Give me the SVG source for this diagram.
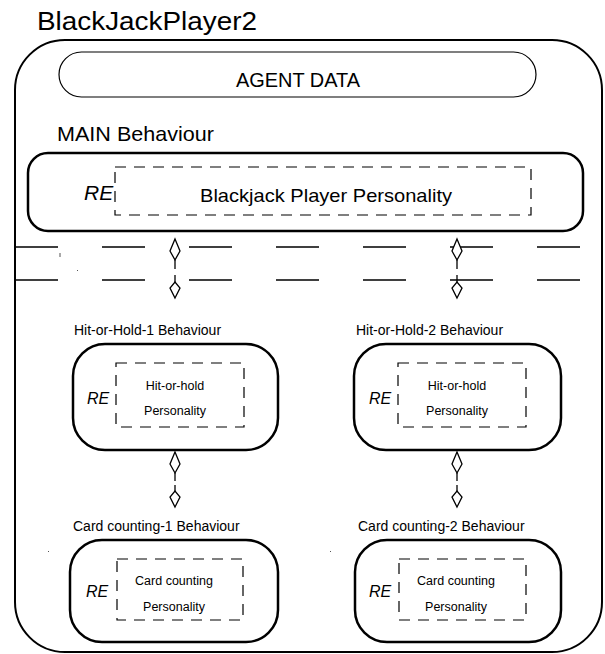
<svg xmlns="http://www.w3.org/2000/svg" width="605" height="654" viewBox="0 0 605 654">
<style>
text{font-family:"Liberation Sans",Arial,sans-serif;fill:#000}
.box{fill:none;stroke:#000;stroke-width:2.5}
.dash{fill:none;stroke:#000;stroke-width:1.2;stroke-dasharray:11 8}
.re{font-style:italic}
.ln{stroke:#000;stroke-width:1.3;fill:none}
.dia{fill:#fff;stroke:#000;stroke-width:1.3}
.hl{stroke:#000;stroke-width:1.3;stroke-dasharray:43 44}
.spk{fill:#555}
</style>
<text x="37" y="30" font-size="26" textLength="220" lengthAdjust="spacingAndGlyphs">BlackJackPlayer2</text>
<g id="agent">
<rect x="15" y="40" width="587" height="612" rx="50" fill="none" stroke="#000" stroke-width="2"/>
</g>
<g id="agentdata">
<rect x="59" y="52" width="477" height="45" rx="22.5" fill="none" stroke="#000" stroke-width="1.2"/>
<text x="236" y="87" font-size="21" textLength="124" lengthAdjust="spacingAndGlyphs">AGENT DATA</text>
</g>
<g id="main">
<text x="57" y="141" font-size="21" textLength="157" lengthAdjust="spacingAndGlyphs">MAIN Behaviour</text>
<rect class="box" x="28" y="153" width="555" height="78" rx="20"/>
<rect class="dash" x="115" y="167" width="416" height="48"/>
<text class="re" x="84" y="200" font-size="21">RE</text>
<text x="200" y="202" font-size="18.5" textLength="252" lengthAdjust="spacingAndGlyphs">Blackjack Player Personality</text>
</g>
<g id="hh1">
<text x="74" y="335" font-size="14">Hit-or-Hold-1 Behaviour</text>
<rect class="box" x="73" y="344" width="205" height="106" rx="32"/>
<rect class="dash" x="116" y="363" width="128" height="64"/>
<text class="re" x="87" y="404" font-size="16">RE</text>
<text x="175" y="390" font-size="12.5" text-anchor="middle">Hit-or-hold</text>
<text x="175" y="415" font-size="12.5" text-anchor="middle">Personality</text>
</g>
<g id="hh2">
<text x="356" y="335" font-size="14">Hit-or-Hold-2 Behaviour</text>
<rect class="box" x="354" y="344" width="207" height="106" rx="32"/>
<rect class="dash" x="398" y="363" width="128" height="64"/>
<text class="re" x="369" y="404" font-size="16">RE</text>
<text x="457" y="390" font-size="12.5" text-anchor="middle">Hit-or-hold</text>
<text x="457" y="415" font-size="12.5" text-anchor="middle">Personality</text>
</g>
<g id="cc1">
<text x="73" y="531" font-size="14">Card counting-1 Behaviour</text>
<rect class="box" x="70" y="540" width="208" height="102" rx="32"/>
<rect class="dash" x="117" y="559" width="126" height="61"/>
<text class="re" x="86" y="597" font-size="16">RE</text>
<text x="174" y="585" font-size="12.5" text-anchor="middle">Card counting</text>
<text x="174" y="611" font-size="12.5" text-anchor="middle">Personality</text>
</g>
<g id="cc2">
<text x="358" y="531" font-size="14">Card counting-2 Behaviour</text>
<rect class="box" x="355" y="540" width="206" height="102" rx="32"/>
<rect class="dash" x="399" y="559" width="127" height="61"/>
<text class="re" x="369" y="597" font-size="16">RE</text>
<text x="456" y="585" font-size="12.5" text-anchor="middle">Card counting</text>
<text x="456" y="611" font-size="12.5" text-anchor="middle">Personality</text>
</g>
<g id="connectors">
<line class="hl" x1="15" y1="247" x2="600" y2="247"/>
<line class="hl" x1="15" y1="280" x2="600" y2="280"/>
<line class="ln" x1="175" y1="260" x2="175" y2="269"/>
<path class="dia" d="M175 239 L180 251 L175 260 L170 251 Z"/>
<line class="ln" x1="175" y1="275" x2="175" y2="282"/>
<path class="dia" d="M175 298 L180 288 L175 282 L170 288 Z"/>
<line class="ln" x1="457" y1="260" x2="457" y2="269"/>
<path class="dia" d="M457 239 L462 251 L457 260 L452 251 Z"/>
<line class="ln" x1="457" y1="275" x2="457" y2="282"/>
<path class="dia" d="M457 298 L462 288 L457 282 L452 288 Z"/>
<line class="ln" x1="175" y1="473" x2="175" y2="481"/>
<path class="dia" d="M175 452 L180 464 L175 473 L170 464 Z"/>
<line class="ln" x1="175" y1="485" x2="175" y2="491"/>
<path class="dia" d="M175 507 L180 497 L175 491 L170 497 Z"/>
<line class="ln" x1="457" y1="473" x2="457" y2="481"/>
<path class="dia" d="M457 452 L462 464 L457 473 L452 464 Z"/>
<line class="ln" x1="457" y1="485" x2="457" y2="491"/>
<path class="dia" d="M457 507 L462 497 L457 491 L452 497 Z"/>
</g>
<rect class="spk" x="59.5" y="253" width="1" height="4"/>
<rect class="spk" x="77" y="270" width="1" height="1"/>
<rect class="spk" x="48" y="551" width="1" height="1"/>
<rect class="spk" x="330" y="551" width="1" height="1"/>
</svg>
